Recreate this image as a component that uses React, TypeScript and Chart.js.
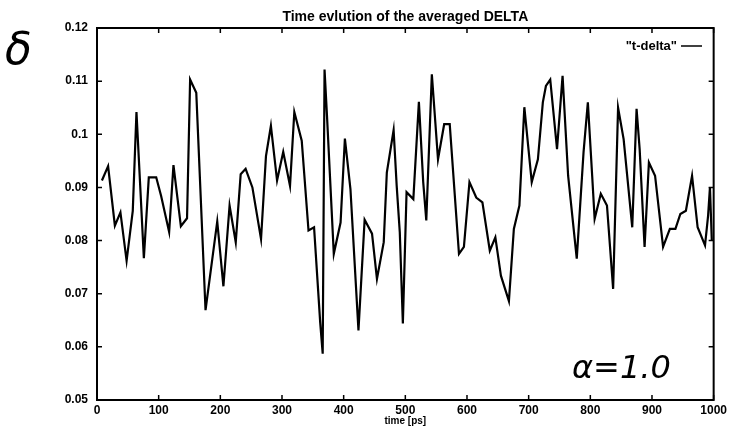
import React, { useEffect, useRef } from "react";
import { Chart, registerables } from "chart.js";

Chart.register(...registerables);

// Sample times (ps) and the averaged DELTA at each of them
const timePs = [
  8, 18, 29, 38, 48, 58, 64, 76, 84, 96, 104, 117, 124, 136, 146, 151, 161, 176, 195, 205,
  215, 225, 233, 241, 252, 266, 274, 282, 292, 302, 313, 320, 332, 343, 352, 362, 366, 369, 373, 384,
  395, 402, 411, 424, 434, 446, 454, 465, 470, 481, 486, 491, 496, 502, 513, 522, 529, 534, 543, 553,
  563, 572, 587, 595, 604, 615, 625, 637, 646, 655, 668, 676, 685, 693, 705, 715, 723, 728, 735, 746,
  755, 764, 778, 789, 796, 803, 807, 817, 827, 837, 845, 854, 868, 875, 880, 888, 895, 905, 918, 929,
  938, 946, 955, 965, 974, 986, 991, 994, 997,
];
const deltaValues = [
  0.0913, 0.094, 0.0828, 0.0853, 0.0762, 0.0856, 0.1042, 0.0767, 0.0919, 0.0919, 0.0884, 0.0816, 0.0942, 0.0827, 0.0842, 0.1103, 0.1078, 0.0669, 0.0836, 0.0714,
  0.0866, 0.0797, 0.0925, 0.0935, 0.09, 0.0803, 0.0959, 0.1016, 0.0913, 0.0967, 0.0903, 0.1042, 0.0988, 0.0819, 0.0825, 0.0645, 0.0587, 0.1122, 0.1034, 0.0775,
  0.0834, 0.0992, 0.0897, 0.0631, 0.0839, 0.0813, 0.0728, 0.0797, 0.0928, 0.1008, 0.0903, 0.0816, 0.0644, 0.0891, 0.0878, 0.1061, 0.091, 0.0838, 0.1113, 0.0953,
  0.1019, 0.1019, 0.0775, 0.0788, 0.091, 0.0881, 0.0872, 0.0781, 0.0806, 0.0734, 0.0686, 0.0822, 0.0866, 0.1051, 0.091, 0.0953, 0.106, 0.1091, 0.1103, 0.0972,
  0.111, 0.0922, 0.0766, 0.0966, 0.106, 0.0922, 0.0841, 0.0888, 0.0866, 0.0709, 0.105, 0.0991, 0.0825, 0.1048, 0.0972, 0.0788, 0.0947, 0.0922, 0.0788, 0.0822,
  0.0822, 0.085, 0.0856, 0.0922, 0.0825, 0.0791, 0.0847, 0.09, 0.08,
];

const xTickValues = [0, 100, 200, 300, 400, 500, 600, 700, 800, 900, 1000];
const yTickValues = [0.05, 0.06, 0.07, 0.08, 0.09, 0.1, 0.11, 0.12];

const chartTitle = "Time evlution of the averaged DELTA";
const seriesLabel = "\"t-delta\"";
const xAxisTitle = "time [ps]";
const yAxisSymbol = "δ";
const parameterNote = "α=1.0";

const sansFamily = "'Liberation Sans', Arial, sans-serif";
const handFamily = "'DejaVu Sans ExtraLight', 'DejaVu Sans', sans-serif";

// Boxed frame with inward ticks on all four sides, plus title, key and notes
const decorations = {
  id: "decorations",
  afterDatasetsDraw(chart: any) {
    const { ctx, chartArea, scales } = chart;
    const { left, right, top, bottom } = chartArea;
    const xs = scales.x;
    const ys = scales.y;
    ctx.save();
    ctx.strokeStyle = "#000";
    ctx.lineWidth = 1.5;
    ctx.beginPath();
    for (const v of xTickValues) {
      const px = xs.getPixelForValue(v);
      ctx.moveTo(px, bottom);
      ctx.lineTo(px, bottom - 5);
      ctx.moveTo(px, top);
      ctx.lineTo(px, top + 5);
    }
    for (const v of yTickValues) {
      const py = ys.getPixelForValue(v);
      ctx.moveTo(left, py);
      ctx.lineTo(left + 5, py);
      ctx.moveTo(right, py);
      ctx.lineTo(right - 5, py);
    }
    ctx.stroke();

    ctx.lineWidth = 2;
    ctx.strokeRect(left, top, right - left, bottom - top);

    // title
    ctx.fillStyle = "#000";
    ctx.font = `bold 14px ${sansFamily}`;
    ctx.textAlign = "center";
    ctx.textBaseline = "middle";
    ctx.fillText(chartTitle, (left + right) / 2, 17);

    // key
    ctx.font = `bold 13px ${sansFamily}`;
    ctx.textAlign = "right";
    ctx.fillText(seriesLabel, 677, 46);
    ctx.lineWidth = 1.5;
    ctx.beginPath();
    ctx.moveTo(681, 46);
    ctx.lineTo(702, 46);
    ctx.stroke();

    // hand-written notes
    ctx.textAlign = "left";
    ctx.textBaseline = "alphabetic";
    ctx.font = `italic 200 44px ${handFamily}`;
    ctx.fillText(yAxisSymbol, 5, 64);
    ctx.font = `italic 200 32px ${handFamily}`;
    ctx.fillText(parameterNote, 572, 378);
    ctx.restore();
  },
};

export default function App() {
  const canvasRef = useRef<HTMLCanvasElement | null>(null);

  useEffect(() => {
    const canvas = canvasRef.current;
    if (!canvas) return;
    const points = timePs.map((t, i) => ({ x: t, y: deltaValues[i] }));
    const chart = new Chart(canvas, {
      type: "line",
      data: {
        datasets: [
          {
            label: seriesLabel,
            data: points,
            borderColor: "#000",
            borderWidth: 2.2,
            pointRadius: 0,
            tension: 0,
            fill: false,
          },
        ],
      },
      options: {
        animation: false,
        responsive: false,
        devicePixelRatio: 1,
        layout: { padding: { left: 0, right: 15, top: 28, bottom: 0 } },
        plugins: {
          legend: { display: false },
          title: { display: false },
          tooltip: { enabled: false },
        },
        scales: {
          x: {
            type: "linear",
            min: 0,
            max: 1000,
            grid: { display: false, drawTicks: false },
            border: { display: false },
            afterBuildTicks: (s: any) => {
              s.ticks = xTickValues.map((v) => ({ value: v }));
            },
            afterFit: (s: any) => {
              s.height = 32;
            },
            ticks: {
              color: "#000",
              font: { family: sansFamily, size: 12, weight: "bold" },
              padding: 3,
              maxRotation: 0,
              autoSkip: false,
              callback: (v: any) => String(v),
            },
            title: {
              display: true,
              text: xAxisTitle,
              color: "#000",
              font: { family: sansFamily, size: 10, weight: "bold" },
              padding: { top: 0, bottom: 5 },
            },
          },
          y: {
            type: "linear",
            min: 0.05,
            max: 0.12,
            grid: { display: false, drawTicks: false },
            border: { display: false },
            afterBuildTicks: (s: any) => {
              s.ticks = yTickValues.map((v) => ({ value: v }));
            },
            afterFit: (s: any) => {
              s.width = 97;
            },
            ticks: {
              color: "#000",
              font: { family: sansFamily, size: 12, weight: "bold" },
              padding: 9,
              callback: (v: any) => String(parseFloat(Number(v).toFixed(2))),
            },
          },
        },
      },
      plugins: [decorations],
    });
    return () => chart.destroy();
  }, []);

  return (
    <div style={{ position: "fixed", left: 0, top: 0, width: 730, height: 432, background: "#fff" }}>
      <canvas ref={canvasRef} width={730} height={432} style={{ width: 730, height: 432, display: "block" }} />
    </div>
  );
}
